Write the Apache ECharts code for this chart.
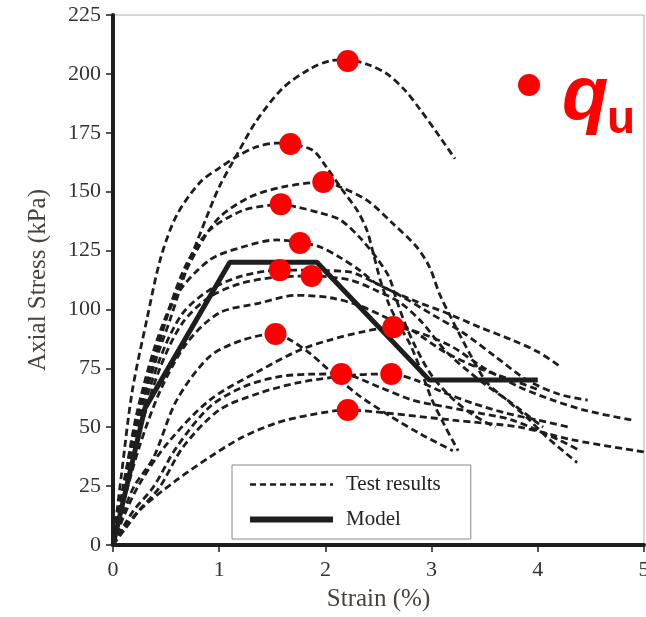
<!DOCTYPE html>
<html>
<head>
<meta charset="utf-8">
<script src="https://cdn.jsdelivr.net/npm/echarts@6/dist/echarts.min.js"></script>
<style>
  html, body { margin: 0; padding: 0; background: #fff; }
  #main { width: 646px; height: 617px; }
</style>
</head>
<body>
<div id="main"></div>
<script>
// axis ticks
var xTicks = [0, 1, 2, 3, 4, 5]
var yTicks = [0, 25, 50, 75, 100, 125, 150, 175, 200, 225]

// test curves (strain %, axial stress kPa)
var testA = [[0,0],[0.1,22],[0.25,55],[0.4,78],[0.54,96],[0.7,118],[0.88,139],[1.0,152],[1.17,166],[1.35,180],[1.6,194],[1.85,202],[2.04,205.5],[2.21,206],[2.4,204],[2.58,200],[2.75,193],[2.89,185],[3.05,175],[3.22,164]]
var testB = [[0,0],[0.08,30],[0.18,65],[0.32,96],[0.45,122],[0.6,140],[0.82,154],[1.0,160],[1.17,165],[1.35,169],[1.54,170.6],[1.67,170.2],[1.88,167.6],[2.01,160.4],[2.16,150.7],[2.3,142],[2.39,133.7],[2.45,124],[2.52,112],[2.6,102],[2.7,93],[2.8,85],[2.9,74],[3.0,62],[3.12,51],[3.25,40]]
var testC = [[0,0],[0.1,25],[0.22,55],[0.4,85],[0.6,108],[0.8,126],[1.0,139],[1.29,147.7],[1.6,152],[1.98,154],[2.14,152],[2.39,146.4],[2.63,136.7],[2.86,126.5],[2.98,118],[3.08,106],[3.2,95],[3.35,82],[3.52,69],[3.71,61.5],[3.9,54],[4.08,46],[4.37,35]]
var testD = [[0,0],[0.1,24],[0.22,52],[0.4,80],[0.55,103],[0.7,120],[0.91,133.7],[1.22,142],[1.48,144.3],[1.58,144.7],[1.73,143.5],[1.95,141],[2.14,138],[2.32,130.7],[2.48,122],[2.6,113.7],[2.67,104],[2.75,94],[2.85,84],[3.0,72],[3.2,62],[3.4,55],[3.6,50]]
var testE = [[0,0],[0.1,26],[0.22,52],[0.4,82],[0.6,106],[0.91,121],[1.22,126.5],[1.54,129.5],[1.76,128.5],[1.95,126.5],[2.14,122],[2.32,116.7],[2.48,111],[2.82,104],[3.14,98.5],[3.45,92.5],[3.76,87],[4.0,82],[4.22,75.5]]
var testF = [[0,0],[0.1,22],[0.25,52],[0.45,80],[0.65,98],[0.9,108],[1.2,114],[1.57,116.7],[1.98,116.5],[2.23,115.9],[2.48,111],[2.7,106],[3.0,98],[3.3,90],[3.6,80],[3.9,70],[4.2,64],[4.47,61.5]]
var testG = [[0,0],[0.1,20],[0.25,48],[0.45,76],[0.65,94],[0.9,105],[1.2,111],[1.5,113.5],[1.87,114.2],[2.23,112.5],[2.48,108],[2.7,103],[2.9,95],[3.14,82],[3.45,70],[3.76,60],[4.05,50]]
var testK = [[0,0],[0.1,18],[0.25,42],[0.45,66],[0.7,86],[1.0,98.5],[1.38,102.7],[1.73,106],[2.04,105],[2.3,102],[2.55,97],[2.82,91],[3.14,81.5],[3.45,75],[3.76,70],[4.0,66]]
var testL = [[0,0],[0.1,12],[0.25,26],[0.51,43],[0.91,61.5],[1.38,74],[1.76,82.8],[2.04,87],[2.35,90.5],[2.64,92.5],[2.89,90],[3.2,84],[3.48,75.5],[3.83,67],[4.14,61.5],[4.46,57],[4.89,53]]
var testM = [[0,0],[0.1,14],[0.2,25],[0.38,37],[0.6,61.5],[0.91,80],[1.22,87],[1.53,89.6],[1.67,87],[1.85,81.5],[2.04,74],[2.3,64],[2.6,55],[2.9,47],[3.2,40]]
var testH = [[0,0],[0.1,8],[0.2,15],[0.38,24.6],[0.6,41.6],[0.91,58.6],[1.22,67],[1.54,71.3],[1.85,72.5],[2.15,72.6],[2.51,67],[2.82,61.5],[3.14,58.6],[3.45,56],[3.76,53],[4.2,44.6],[4.4,40]]
var testI = [[0,0],[0.1,7],[0.25,15],[0.44,24.6],[0.66,41.6],[1.0,57.3],[1.38,64.5],[1.73,68.8],[2.04,71],[2.3,72.3],[2.62,72.6],[2.85,70],[3.1,65],[3.4,60],[3.7,56],[4.0,53],[4.3,50]]
var testN = [[0,0],[0.1,6],[0.28,16],[0.6,27.6],[0.91,37.3],[1.22,45.8],[1.54,51.8],[1.85,55.2],[2.21,57.3],[2.58,56],[3.2,53],[3.83,50],[4.33,44.6],[5.0,39.5]]

// model (trilinear)
var modelCurve = [[0,0],[0.3,58],[1.1,120],[1.92,120],[2.98,70],[4.0,70]]

// peak strengths q_u
var quPoints = [[2.21,205.5],[1.67,170.2],[1.98,154.1],[1.58,144.7],[1.76,128.2],[1.57,116.7],[1.87,114.2],[2.64,92.5],[1.53,89.6],[2.15,72.6],[2.62,72.6],[2.21,57.3]]

var testCurves = [testA, testB, testC, testD, testE, testF, testG, testK, testL, testM, testH, testI, testN]

var serif = 'Liberation Serif'
var dashStyle = { color: '#1e1e1e', width: 2.8, type: [7, 4] }
var modelStyle = { color: '#1e1e1e', width: 5, type: 'solid' }

var series = []
testCurves.forEach(function (c) {
  series.push({
    name: 'Test results',
    type: 'line',
    data: c,
    smooth: 0.3,
    symbol: 'none',
    itemStyle: { color: '#1e1e1e' },
    lineStyle: dashStyle,
    z: 2
  })
})
series.push({
  name: 'Model',
  type: 'line',
  data: modelCurve,
  symbol: 'none',
  itemStyle: { color: '#1e1e1e' },
  lineStyle: modelStyle,
  z: 3
})
series.push({
  name: 'qu',
  type: 'scatter',
  data: quPoints,
  symbol: 'circle',
  symbolSize: 22,
  itemStyle: { color: '#ff0000', opacity: 1 },
  z: 5
})

var myChart = echarts.init(document.getElementById('main'))
myChart.setOption({
  animation: false,
  grid: {
    left: 113, right: 2, top: 15, bottom: 72,
    outerBoundsMode: 'none',
    show: true, borderColor: '#b0b0b0', borderWidth: 1
  },
  legend: {
    data: [
      { name: 'Test results', itemStyle: { opacity: 0 }, lineStyle: { color: '#1e1e1e', width: 2.4, type: [6, 4] } },
      { name: 'Model', itemStyle: { opacity: 0 }, lineStyle: { color: '#1e1e1e', width: 6, type: 'solid' } }
    ],
    orient: 'vertical',
    left: 232, top: 465,
    padding: [9, 30, 9, 15],
    itemWidth: 83, itemHeight: 20, itemGap: 14,
    borderColor: '#888', borderWidth: 1,
    textStyle: { fontFamily: serif, fontSize: 21, color: '#222', padding: [0, 0, 0, 8] }
  },
  xAxis: {
    type: 'value', min: 0, max: 5, interval: 1,
    name: 'Strain (%)', nameLocation: 'middle', nameGap: 42,
    nameTextStyle: { fontFamily: serif, fontSize: 25, color: '#4a403c' },
    axisLine: { lineStyle: { color: '#1e1e1e', width: 4 } },
    axisTick: { show: true, length: 7, lineStyle: { color: '#1e1e1e', width: 1.5 } },
    axisLabel: { fontFamily: serif, fontSize: 22, color: '#333', margin: 14,
      formatter: function (v) { return xTicks.indexOf(v) >= 0 ? v : '' } },
    splitLine: { show: false }
  },
  yAxis: {
    type: 'value', min: 0, max: 225, interval: 25,
    name: 'Axial Stress (kPa)', nameLocation: 'middle', nameGap: 62,
    nameTextStyle: { fontFamily: serif, fontSize: 25, color: '#4a403c' },
    axisLine: { show: true, lineStyle: { color: '#1e1e1e', width: 4 } },
    axisTick: { show: true, length: 7, lineStyle: { color: '#1e1e1e', width: 1.5 } },
    axisLabel: { fontFamily: serif, fontSize: 22, color: '#333', margin: 12,
      formatter: function (v) { return yTicks.indexOf(v) >= 0 ? v : '' } },
    splitLine: { show: false }
  },
  graphic: [
    { type: 'circle', shape: { cx: 529, cy: 85, r: 11 }, style: { fill: '#ff0000' } },
    { type: 'text', x: 562, y: 98, style: { text: 'q', fill: '#ff0000',
      font: 'italic bold 76px "Liberation Sans"', verticalAlign: 'middle', align: 'left' } },
    { type: 'text', x: 607, y: 120, style: { text: 'u', fill: '#ff0000',
      font: 'bold 46px "Liberation Sans"', verticalAlign: 'middle', align: 'left' } }
  ],
  series: series
})
</script>
</body>
</html>
